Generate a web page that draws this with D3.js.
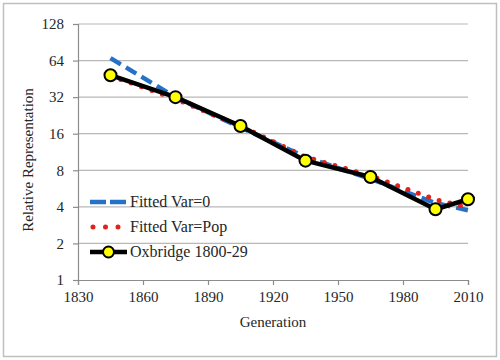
<!DOCTYPE html>
<html><head><meta charset="utf-8">
<script src="https://cdn.jsdelivr.net/npm/d3@7"></script>
<style>
html,body{margin:0;padding:0;background:#fff;}
</style></head>
<body><svg id="c" width="500" height="360"></svg>
<script>
const years = [1845, 1875, 1905, 1935, 1965, 1995, 2010];
const fittedVar0 = [67, 32, 18, 10.3, 6.8, 4.3, 3.75];
const fittedVarPop = [48, 31, 18.5, 10.3, 7.2, 4.6, 3.95];
const oxbridge = [48.5, 32, 18.5, 9.6, 7.05, 3.82, 4.62];
const xTicks = [1830, 1860, 1890, 1920, 1950, 1980, 2010];
const yTicks = [1, 2, 4, 8, 16, 32, 64, 128];
const seriesNames = ["Fitted Var=0", "Fitted Var=Pop", "Oxbridge 1800-29"];

const FONT = "'Liberation Serif'";
const svg = d3.select("#c");
const m = {l: 78, r: 32, t: 24, b: 80};
const W = 500, H = 360;
const x = d3.scaleLinear().domain([1830, 2010]).range([m.l, W - m.r]);
const y = d3.scaleLog().base(2).domain([1, 128]).range([H - m.b, m.t]);

svg.append("rect").attr("x", 3.5).attr("y", 3.5).attr("width", 493).attr("height", 353)
  .attr("fill", "#fff").attr("stroke", "#bfbfbf").attr("stroke-width", 1.5);

svg.append("g").selectAll("line").data(yTicks.slice(1)).join("line")
  .attr("x1", m.l).attr("x2", W - m.r)
  .attr("y1", d => y(d)).attr("y2", d => y(d))
  .attr("stroke", "#b8b8b8").attr("stroke-width", 1.2);

const xAxis = svg.append("g").attr("transform", `translate(0,${H - m.b})`)
  .call(d3.axisBottom(x).tickValues(xTicks).tickFormat(d3.format("d")).tickSize(5).tickPadding(6));
const yAxis = svg.append("g").attr("transform", `translate(${m.l},0)`)
  .call(d3.axisLeft(y).tickValues(yTicks).tickFormat(d3.format("d")).tickSize(5).tickPadding(9));
[xAxis, yAxis].forEach(a => {
  a.attr("font-family", null).attr("font-size", null);
  a.selectAll("path,line").attr("stroke", "#8c8c8c").attr("stroke-width", 1.2);
  a.selectAll("text").style("font-family", FONT).style("font-size", "15px").attr("fill", "#262626");
});

svg.append("text").attr("x", 273).attr("y", 327).attr("text-anchor", "middle")
  .style("font-family", FONT).style("font-size", "15px").attr("fill", "#262626").text("Generation");
svg.append("text").attr("transform", "translate(33,160) rotate(-90)").attr("text-anchor", "middle")
  .style("font-family", FONT).style("font-size", "15px").attr("fill", "#262626").text("Relative Representation");

const line = d3.line().x(d => x(d[0])).y(d => y(d[1]));
const zip = vals => years.map((yr, i) => [yr, vals[i]]);

const styles = [
  {color: "#2472c8", width: 4.5, dash: "12 6", cap: "butt"},
  {color: "#e0231c", width: 5, dash: "0 11", cap: "round"},
  {color: "#000", width: 4.5, dash: null, cap: "round"}
];
const data = [fittedVar0, fittedVarPop, oxbridge];

data.forEach((vals, i) => {
  const s = styles[i];
  svg.append("path").datum(zip(vals)).attr("d", line).attr("fill", "none")
    .attr("stroke", s.color).attr("stroke-width", s.width)
    .attr("stroke-dasharray", s.dash).attr("stroke-linecap", s.cap).attr("stroke-linejoin", "round");
});
svg.append("g").selectAll("circle").data(zip(oxbridge)).join("circle")
  .attr("cx", d => x(d[0])).attr("cy", d => y(d[1])).attr("r", 6)
  .attr("fill", "#ffff00").attr("stroke", "#000").attr("stroke-width", 2);

const lg = svg.append("g");
const ly = [202, 227, 252];
seriesNames.forEach((name, i) => {
  const s = styles[i];
  lg.append("line").attr("x1", 90).attr("x2", 127).attr("y1", ly[i]).attr("y2", ly[i])
    .attr("stroke", s.color).attr("stroke-width", s.width)
    .attr("stroke-dasharray", i === 0 ? "16 4" : (i === 1 ? "0 12.5" : null))
    .attr("stroke-linecap", i === 1 ? "round" : "butt")
    .attr("transform", i === 1 ? "translate(3,0)" : null);
  if (i === 2) lg.append("circle").attr("cx", 108.5).attr("cy", ly[i]).attr("r", 5.5)
    .attr("fill", "#ffff00").attr("stroke", "#000").attr("stroke-width", 2);
  lg.append("text").attr("x", 130).attr("y", ly[i] + 5)
    .style("font-family", FONT).style("font-size", "16px").attr("fill", "#262626").text(name);
});
</script></body></html>
